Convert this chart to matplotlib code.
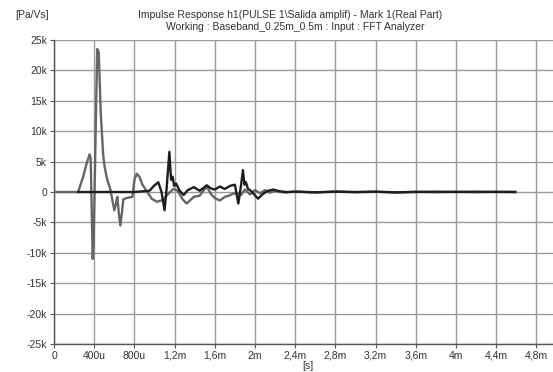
import matplotlib
matplotlib.use("Agg")
import matplotlib.pyplot as plt
import numpy as np

# ---- data (time in microseconds, values in k Pa/Vs) ----
t_gray_us = [0, 240, 290, 330, 355, 365, 385, 395, 420, 430, 445, 465, 490, 505, 530, 560,
             600, 615, 630, 645, 660, 675, 690, 720, 780, 800, 823, 850, 880, 920, 972, 1022,
             1090, 1130, 1188, 1230, 1280, 1320, 1390, 1450, 1520, 1560, 1600, 1650, 1700,
             1740, 1780, 1820, 1860, 1900, 1950, 2000, 2050, 2100, 2150, 2200, 2300, 2400,
             2600, 2800, 3000, 3200, 3400, 3600, 3800, 4000, 4200, 4400, 4590]
v_gray_k = [0, 0, 2.5, 5.0, 6.2, 5.5, -11.0, -8.0, 15.0, 23.5, 23.0, 13.0, 6.0, 4.0, 2.0, 0.5,
            -3.0, -2.0, -0.8, -3.5, -5.5, -3.5, -1.2, -1.0, -0.8, 2.0, 3.0, 2.5, 1.2, 0.2, -1.1, -1.6,
            -1.3, -0.4, 0.5, 0.2, -1.2, -1.9, -0.8, -0.6, 0.9, -0.3, -1.0, -1.4, -0.8,
            -0.6, -0.3, -0.2, -0.5, 0.4, -0.4, 0.3, -0.2, 0.3, -0.1, 0.2, -0.1, 0.1,
            -0.1, 0.1, -0.05, 0.05, -0.1, 0.05, -0.05, 0.05, -0.05, 0.05, 0.0]

t_black_us = [240, 800, 950, 1000, 1038, 1070, 1100, 1120, 1148, 1165, 1180, 1195, 1215,
              1250, 1290, 1330, 1390, 1450, 1520, 1560, 1600, 1650, 1700, 1750, 1800, 1834,
              1860, 1880, 1895, 1910, 1930, 1960, 2030, 2080, 2130, 2180, 2250, 2320, 2400,
              2600, 2800, 3000, 3200, 3400, 3600, 3800, 4000, 4200, 4400, 4590]
v_black_k = [0, 0, 0.2, 1.1, 1.6, 0.0, -3.0, 0.5, 6.6, 2.0, 2.5, 1.0, 1.4,
             0.2, -0.5, 0.3, 0.8, 0.2, 1.1, 0.6, 0.4, 0.9, 0.5, 1.0, 1.2, -1.9,
             1.0, 3.6, 1.2, 1.6, 0.5, 0.2, -1.1, -0.3, 0.2, 0.4, 0.1, 0.0, 0.05,
             -0.05, 0.05, 0.0, 0.05, -0.05, 0.0, 0.05, 0.0, 0.05, 0.0, 0.0]

x_ticks_s = [0, 400e-6, 800e-6, 1.2e-3, 1.6e-3, 2.0e-3, 2.4e-3, 2.8e-3, 3.2e-3, 3.6e-3,
             4.0e-3, 4.4e-3, 4.8e-3]
x_tick_labels = ["0", "400u", "800u", "1,2m", "1,6m", "2m", "2,4m", "2,8m", "3,2m", "3,6m",
                 "4m", "4,4m", "4,8m"]
y_ticks = [25000, 20000, 15000, 10000, 5000, 0, -5000, -10000, -15000, -20000, -25000]
y_tick_labels = ["25k", "20k", "15k", "10k", "5k", "0", "-5k", "-10k", "-15k", "-20k", "-25k"]

title1 = "Impulse Response h1(PULSE 1\\Salida amplif) - Mark 1(Real Part)"
title2 = "Working : Baseband_0.25m_0.5m : Input : FFT Analyzer"
y_unit = "[Pa/Vs]"
x_unit = "[s]"

# ---- figure ----
plt.rcParams['font.family'] = ['Liberation Sans', 'DejaVu Sans']
W, H = 553, 372
fig = plt.figure(figsize=(W / 100, H / 100), dpi=100)
left, right, top, bottom = 54, 553, 40, 344
ax = fig.add_axes([left / W, 1 - bottom / H, (right - left) / W, (bottom - top) / H])

tg = np.array(t_gray_us) * 1e-6
vg = np.array(v_gray_k) * 1e3
tb = np.array(t_black_us) * 1e-6
vb = np.array(v_black_k) * 1e3

ax.plot(tg, vg, color="#656565", lw=1.7, zorder=3)
ax.plot(tb, vb, color="#1e1e1e", lw=1.7, zorder=4)

ax.set_xlim(0, (right - left) / 40.2 * 400e-6)
ax.set_ylim(-25000, 25000)
ax.set_xticks(x_ticks_s)
ax.set_xticklabels(x_tick_labels)
ax.set_yticks(y_ticks)
ax.set_yticklabels(y_tick_labels)
ax.grid(True, color="#9a9a9a", lw=1.0)
ax.set_axisbelow(True)
for s in ["top", "right"]:
    ax.spines[s].set_visible(False)
for s in ["left", "bottom"]:
    ax.spines[s].set_color("#555555")
    ax.spines[s].set_linewidth(1.0)
ax.tick_params(axis="both", labelsize=7.5, colors="#555555", labelcolor="#333333",
               length=3, width=0.8, pad=2)

fig.text(15 / W, 1 - 15 / H, y_unit, fontsize=7.5, color="#333333", ha="left", va="center")
fig.text(290 / W, 1 - 15 / H, title1, fontsize=7.5, color="#333333", ha="center", va="center")
fig.text(295 / W, 1 - 27 / H, title2, fontsize=7.5, color="#333333", ha="center", va="center")
fig.text(308 / W, 1 - 366 / H, x_unit, fontsize=7.5, color="#333333", ha="center", va="center")

fig.savefig("out.png", dpi=100)
